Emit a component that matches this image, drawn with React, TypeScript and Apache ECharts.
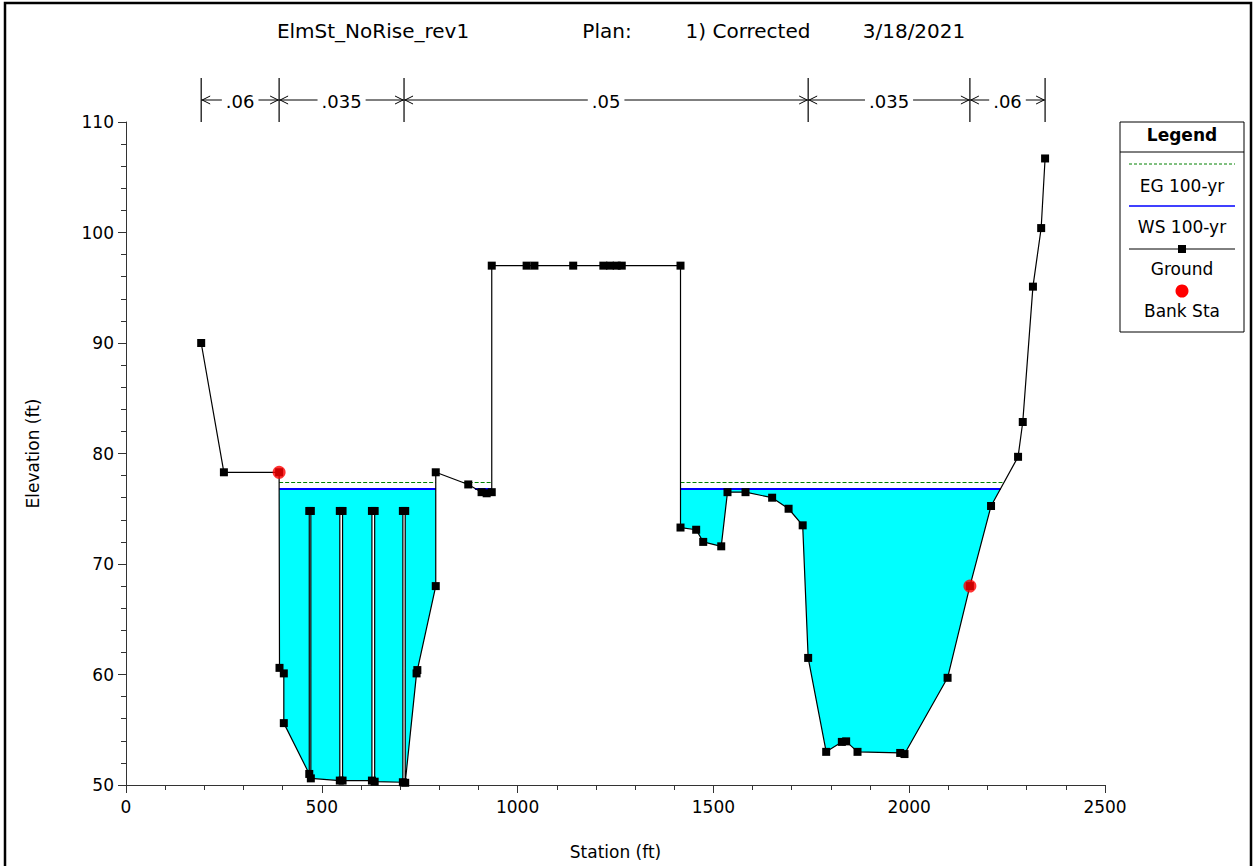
import React, { useEffect, useRef } from "react";
import * as echarts from "echarts";

// ---------- data ----------
const groundStation = [
  192, 250, 391, 392, 403, 403, 468, 468, 472, 472, 546, 546, 553, 553, 628, 628, 635, 635,
  707, 707, 713, 713, 742, 744, 791, 791, 874, 908, 921, 934, 934, 1023, 1043, 1142, 1219,
  1236, 1253, 1266, 1416, 1416, 1456, 1474, 1520, 1536, 1582, 1650, 1692, 1728, 1742, 1788,
  1828, 1839, 1868, 1977, 1988, 2098, 2155, 2209, 2278, 2290, 2316, 2337, 2347,
];
const groundElev = [
  90.0, 78.3, 78.3, 60.6, 60.1, 55.6, 51.0, 74.8, 74.8, 50.6, 50.4, 74.8, 74.8, 50.4, 50.4, 74.8, 74.8, 50.3,
  50.25, 74.8, 74.8, 50.2, 60.1, 60.4, 68.0, 78.3, 77.2, 76.5, 76.4, 76.5, 97.0, 97.0, 97.0, 97.0, 97.0,
  97.0, 97.0, 97.0, 97.0, 73.3, 73.1, 72.0, 71.6, 76.5, 76.5, 76.0, 75.0, 73.5, 61.5, 53.0,
  53.9, 53.95, 53.0, 52.9, 52.8, 59.7, 68.0, 75.25, 79.7, 82.85, 95.1, 100.4, 106.7,
];
const bankStation = [391, 2155];
const bankElev = [78.3, 68.0];
const wsElev = 76.85;
const egElev = 77.39;
const nBreaks = [192, 391, 710, 1742, 2155, 2347];
const nValues = [".06", ".035", ".05", ".035", ".06"];
const titleParts = ["ElmSt_NoRise_rev1", "Plan:", "1) Corrected", "3/18/2021"];
const legendItems = ["EG 100-yr", "WS 100-yr", "Ground", "Bank Sta"];

const FONT = "'DejaVu Sans', Verdana, sans-serif";

// polygons of ground below a level (wetted areas)
function wetPolygons(gx: number[], gy: number[], L: number): number[][][] {
  const polys: number[][][] = [];
  let cur: number[][] | null = null;
  for (let i = 0; i < gx.length; i++) {
    const below = gy[i] < L;
    if (i > 0) {
      const prevBelow = gy[i - 1] < L;
      if (below !== prevBelow) {
        const t = (L - gy[i - 1]) / (gy[i] - gy[i - 1]);
        const xc = gx[i - 1] + t * (gx[i] - gx[i - 1]);
        if (below) {
          cur = [[xc, L]];
        } else if (cur) {
          cur.push([xc, L]);
          polys.push(cur);
          cur = null;
        }
      }
    }
    if (below) {
      if (!cur) cur = [[gx[i], L]];
      cur.push([gx[i], gy[i]]);
    }
  }
  if (cur) {
    cur.push([gx[gx.length - 1], L]);
    polys.push(cur);
  }
  return polys;
}

export default function App() {
  const ref = useRef<HTMLDivElement>(null);
  useEffect(() => {
    if (!ref.current) return;
    const chart = echarts.init(ref.current, null, { renderer: "svg" });

    const waterPolys = wetPolygons(groundStation, groundElev, wsElev);
    const egPolys = wetPolygons(groundStation, groundElev, egElev);
    const wsSegs = waterPolys.map((p) => ({ coords: [p[0], p[p.length - 1]] }));
    const egSegs = egPolys.map((p) => ({ coords: [p[0], p[p.length - 1]] }));
    const groundData = groundStation.map((x, i) => [x, groundElev[i]]);
    const bankData = bankStation.map((x, i) => [x, bankElev[i]]);

    const axisColor = "#333";

    const legendX = 1120;
    const legendW = 124;
    const lcx = legendX + legendW / 2;
    const legendGraphics: any[] = [
      { type: "rect", shape: { x: legendX, y: 122, width: legendW, height: 210 }, style: { fill: "#fff", stroke: "#000", lineWidth: 1 }, z: 100 },
      { type: "line", shape: { x1: legendX, y1: 152, x2: legendX + legendW, y2: 152 }, style: { stroke: "#000", lineWidth: 1 }, z: 101 },
      { type: "text", x: lcx, y: 135, style: { text: "Legend", font: `bold 17px ${FONT}`, fill: "#000", align: "center", verticalAlign: "middle" }, z: 101 },
      { type: "line", shape: { x1: 1129, y1: 164, x2: 1235, y2: 164 }, style: { stroke: "#008000", lineWidth: 1, lineDash: [3, 2] }, z: 101 },
      { type: "text", x: lcx, y: 186, style: { text: legendItems[0], font: `17px ${FONT}`, fill: "#000", align: "center", verticalAlign: "middle" }, z: 101 },
      { type: "line", shape: { x1: 1129, y1: 206, x2: 1235, y2: 206 }, style: { stroke: "#0000FF", lineWidth: 1.3 }, z: 101 },
      { type: "text", x: lcx, y: 227, style: { text: legendItems[1], font: `17px ${FONT}`, fill: "#000", align: "center", verticalAlign: "middle" }, z: 101 },
      { type: "line", shape: { x1: 1129, y1: 249, x2: 1235, y2: 249 }, style: { stroke: "#000", lineWidth: 1 }, z: 101 },
      { type: "rect", shape: { x: lcx - 4, y: 245, width: 8, height: 8 }, style: { fill: "#000" }, z: 102 },
      { type: "text", x: lcx, y: 269, style: { text: legendItems[2], font: `17px ${FONT}`, fill: "#000", align: "center", verticalAlign: "middle" }, z: 101 },
      { type: "circle", shape: { cx: lcx, cy: 291, r: 6.5 }, style: { fill: "#FF0000" }, z: 101 },
      { type: "text", x: lcx, y: 311, style: { text: legendItems[3], font: `17px ${FONT}`, fill: "#000", align: "center", verticalAlign: "middle" }, z: 101 },
    ];
    const titleCx = [373, 607, 748, 914];
    const titleGraphics = titleParts.map((t, i) => ({
      type: "text",
      x: titleCx[i],
      y: 31,
      style: { text: t, font: `20px ${FONT}`, fill: "#000", align: "center", verticalAlign: "middle" },
    }));

    chart.setOption({
      animation: false,
      backgroundColor: "#fff",
      grid: { left: 126, right: 150, top: 122, bottom: 81, containLabel: false },
      xAxis: {
        type: "value",
        min: 0,
        max: 2500,
        interval: 500,
        name: "Station (ft)",
        nameLocation: "middle",
        nameGap: 58,
        nameTextStyle: { fontSize: 17, fontFamily: FONT, color: "#000" },
        axisLine: { show: true, onZero: false, lineStyle: { color: axisColor, width: 1 } },
        axisTick: { show: true, length: 8, lineStyle: { color: axisColor } },
        minorTick: { show: true, splitNumber: 5, length: 5, lineStyle: { color: axisColor } },
        axisLabel: { fontSize: 17, fontFamily: FONT, color: "#000", margin: 13, formatter: (v: number) => String(v) },
        splitLine: { show: false },
        minorSplitLine: { show: false },
      },
      yAxis: {
        type: "value",
        min: 50,
        max: 110,
        interval: 10,
        name: "Elevation (ft)",
        nameLocation: "middle",
        nameGap: 85,
        nameRotate: 90,
        nameTextStyle: { fontSize: 17, fontFamily: FONT, color: "#000" },
        axisLine: { show: true, onZero: false, lineStyle: { color: axisColor, width: 1 } },
        axisTick: { show: true, length: 8, lineStyle: { color: axisColor } },
        minorTick: { show: true, splitNumber: 5, length: 5, lineStyle: { color: axisColor } },
        axisLabel: { fontSize: 17, fontFamily: FONT, color: "#000", margin: 12, formatter: (v: number) => String(v) },
        splitLine: { show: false },
        minorSplitLine: { show: false },
      },
      graphic: [
        { type: "rect", shape: { x: 5, y: 3, width: 1246, height: 900 }, style: { fill: "none", stroke: "#000", lineWidth: 2.5 }, z: 0, silent: true },
        ...titleGraphics,
        ...legendGraphics,
      ],
      series: [
        {
          type: "custom",
          name: "water",
          z: 1,
          silent: true,
          data: waterPolys.map((_, i) => [i]),
          encode: { x: -1, y: -1 },
          renderItem: (params: any, api: any) => {
            const poly = waterPolys[params.dataIndex];
            return {
              type: "polygon",
              shape: { points: poly.map((p) => api.coord(p)) },
              style: { fill: "#00FFFF", stroke: "none" },
            };
          },
        },
        {
          type: "lines",
          name: "EG 100-yr",
          coordinateSystem: "cartesian2d",
          z: 3,
          data: egSegs,
          lineStyle: { color: "#008000", width: 1.2, type: [4, 2], opacity: 1 },
        },
        {
          type: "lines",
          name: "WS 100-yr",
          coordinateSystem: "cartesian2d",
          z: 4,
          data: wsSegs,
          lineStyle: { color: "#0000FF", width: 2, opacity: 1 },
        },
        {
          type: "line",
          name: "Ground",
          z: 5,
          data: groundData,
          showAllSymbol: true,
          symbol: "rect",
          symbolSize: 8,
          lineStyle: { color: "#000", width: 1.2 },
          itemStyle: { color: "#000" },
        },
        {
          type: "scatter",
          name: "Bank Sta",
          z: 6,
          data: bankData,
          symbol: "circle",
          symbolSize: 13,
          itemStyle: { color: "#FF0000" },
        },
        {
          type: "custom",
          name: "n-values",
          z: 7,
          silent: true,
          data: [[1000, 80]],
          renderItem: (params: any, api: any) => {
            const children: any[] = [];
            const topY = api.coord([0, 110])[1];
            const y1 = topY - 44;
            const y2 = topY;
            const ly = topY - 22;
            const px = nBreaks.map((s) => api.coord([s, 110])[0]);
            px.forEach((x) => {
              children.push({ type: "line", shape: { x1: x, y1, x2: x, y2 }, style: { stroke: "#000", lineWidth: 1.2 } });
            });
            for (let i = 0; i < nValues.length; i++) {
              const a = px[i];
              const b = px[i + 1];
              children.push({ type: "line", shape: { x1: a, y1: ly, x2: b, y2: ly }, style: { stroke: "#000", lineWidth: 1 } });
              children.push({ type: "polyline", shape: { points: [[a + 9, ly - 4], [a + 1, ly], [a + 9, ly + 4]] }, style: { stroke: "#000", lineWidth: 1, fill: "none" } });
              children.push({ type: "polyline", shape: { points: [[b - 9, ly - 4], [b - 1, ly], [b - 9, ly + 4]] }, style: { stroke: "#000", lineWidth: 1, fill: "none" } });
              children.push({
                type: "text",
                x: (a + b) / 2,
                y: ly + 1,
                style: {
                  text: nValues[i],
                  font: `18px ${FONT}`,
                  fill: "#000",
                  align: "center",
                  verticalAlign: "middle",
                  backgroundColor: "#fff",
                  padding: [0, 4],
                },
              });
            }
            return { type: "group", children };
          },
        },
      ],
    });
    return () => chart.dispose();
  }, []);
  return (
    <div
      ref={ref}
      style={{ position: "absolute", left: 0, top: 0, width: 1255, height: 866 }}
    />
  );
}
